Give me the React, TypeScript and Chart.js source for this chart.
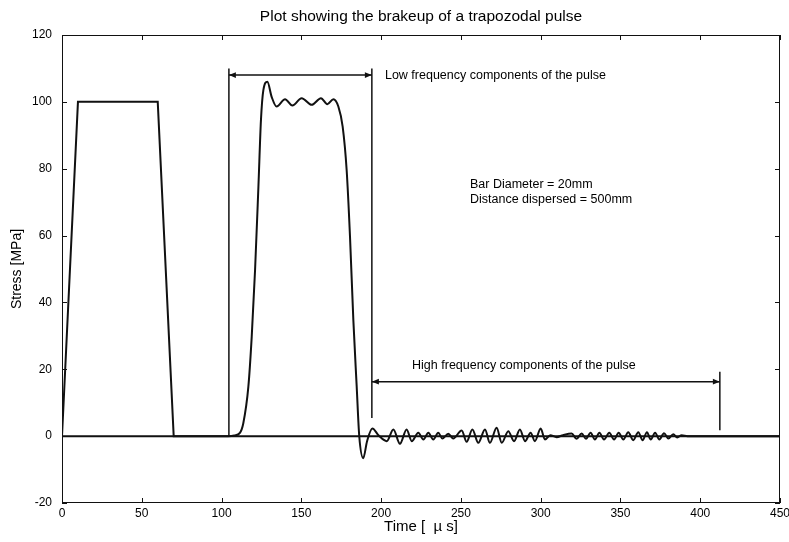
import React, { useEffect, useRef } from "react";
import { Chart, registerables } from "chart.js";

Chart.register(...registerables);

// ---------- data ----------
const titleText = "Plot showing the brakeup of a trapozodal pulse";
const xAxisTitle = "Time [  \u00b5 s]";
const yAxisTitle = "Stress [MPa]";

const xTickMin = 0;
const xTickMax = 450;
const xTickStep = 50;
const yTickMin = -20;
const yTickMax = 120;
const yTickStep = 20;

// original trapezoidal pulse
const trapTime = [0, 10, 60, 70, 450];
const trapStress = [0, 100, 100, 0, 0];

// dispersed pulse after 500 mm
const pulseTime = [
  0, 104, 108, 111.5, 113.6, 116.8, 118.9, 121, 123.1, 124.7, 126.2, 128.7, 131.4, 134.5,
  139.8, 144.4, 150.2, 156.5, 162.3, 166.3, 170.1, 173.2, 175.9, 178.4, 180.5, 182.6, 184.7,
  186.3, 188.8, 191.2, 194.5, 198.5, 203.5, 207.7, 211.8, 216, 219.2, 223.3, 226.5, 229.6,
  232.7, 235.8, 238.4, 242.1, 245.2, 250.5, 253.6, 257.2, 260.9, 265.1, 268.2, 272.4, 275.6,
  279.7, 283.3, 287, 290.2, 293.7, 296.4, 300, 302.7, 306, 310, 314, 319.4, 322.5, 325.7,
  328.4, 331.3, 334, 336.8, 339.7, 343, 346, 348.9, 351.8, 354.9, 358, 361.2, 363.9, 366.6,
  369, 371.7, 374.4, 377.3, 380, 383.1, 385.6, 388.4, 392, 450,
];
const pulseStress = [
  0, 0, 0.2, 1, 3.8, 14.8, 29.7, 49.7, 74.6, 94.6, 103.5, 106, 101.5, 98.6,
  100.8, 98.9, 101.1, 99.1, 101.1, 99.3, 100.8, 98.6, 92.6, 79.6, 59.7, 34.7, 14.8,
  0, -6.6, -1.5, 2.3, 0.2, -1.5, 2.0, -2.3, 2.0, -1.5, 1.0, -1.0, 1.0,
  -1.0, 1.0, -0.7, 0.7, -0.7, 1.7, -1.7, 2.0, -2.0, 2.0, -2.0, 2.5, -2.0,
  1.5, -1.5, 2.0, -1.5, 1.0, -1.5, 2.3, -1.0, 0.3, -0.3, 0.3, 0.8, -0.8, 0.8,
  -0.8, 1.0, -1.0, 1.0, -1.0, 1.0, -1.0, 1.0, -1.0, 1.2, -1.2, 1.2, -1.2, 1.2,
  -1.0, 1.0, -1.0, 0.9, -0.7, 0.6, -0.4, 0.3, 0, 0,
];

// annotation geometry (data units)
const lowBracketLeft = 104.6;
const lowBracketRight = 194.2;
const lowBracketTop = 110;
const lowArrowY = 108;
const lowRightBottom = 5.4;
const highArrowY = 16.3;
const highArrowRight = 412.3;
const highRightTop = 19.3;
const highRightBottom = 1.8;

const lowLabel = "Low frequency components of the pulse";
const lowLabelPos = [202.4, 108];
const highLabel = "High frequency components of the pulse";
const highLabelPos = [219.4, 21];
const infoLines = ["Bar Diameter = 20mm", "Distance dispersed = 500mm"];
const infoPos = [[255.7, 75.4], [255.7, 70.9]];

const FONT = '"Liberation Sans", Arial, Helvetica, sans-serif';
const INK = "#111";

function toXY(t: number[], s: number[]) {
  return t.map((v, i) => ({ x: v, y: s[i] }));
}

const decorPlugin = {
  id: "decor",
  afterDraw(chart: any) {
    const { ctx, chartArea: a } = chart;
    const x = chart.scales.x;
    const y = chart.scales.y;
    const px = (v: number) => x.getPixelForValue(v);
    const py = (v: number) => y.getPixelForValue(v);
    ctx.save();

    // frame
    ctx.strokeStyle = INK;
    ctx.lineWidth = 1;
    ctx.strokeRect(a.left + 0.5, a.top + 0.5, a.right - a.left - 1, a.bottom - a.top - 1);

    // inward ticks
    const tl = 5;
    ctx.beginPath();
    x.ticks.forEach((t: any) => {
      const p = Math.round(px(t.value)) + 0.5;
      ctx.moveTo(p, a.bottom);
      ctx.lineTo(p, a.bottom - tl);
      ctx.moveTo(p, a.top);
      ctx.lineTo(p, a.top + tl);
    });
    y.ticks.forEach((t: any) => {
      const p = Math.round(py(t.value)) + 0.5;
      ctx.moveTo(a.left, p);
      ctx.lineTo(a.left + tl, p);
      ctx.moveTo(a.right, p);
      ctx.lineTo(a.right - tl, p);
    });
    ctx.stroke();

    // annotation lines
    ctx.lineWidth = 1.5;
    ctx.strokeStyle = INK;
    const vline = (t: number, v1: number, v2: number) => {
      ctx.beginPath();
      ctx.moveTo(px(t), py(v1));
      ctx.lineTo(px(t), py(v2));
      ctx.stroke();
    };
    const arrow = (t1: number, t2: number, v: number) => {
      const x1 = px(t1), x2 = px(t2), yy = py(v);
      ctx.beginPath();
      ctx.moveTo(x1, yy);
      ctx.lineTo(x2, yy);
      ctx.stroke();
      const hl = 7, hw = 2.8;
      ctx.fillStyle = INK;
      ctx.beginPath();
      ctx.moveTo(x1, yy);
      ctx.lineTo(x1 + hl, yy - hw);
      ctx.lineTo(x1 + hl, yy + hw);
      ctx.closePath();
      ctx.fill();
      ctx.beginPath();
      ctx.moveTo(x2, yy);
      ctx.lineTo(x2 - hl, yy - hw);
      ctx.lineTo(x2 - hl, yy + hw);
      ctx.closePath();
      ctx.fill();
    };
    vline(lowBracketLeft, lowBracketTop, 0);
    vline(lowBracketRight, lowBracketTop, lowRightBottom);
    arrow(lowBracketLeft, lowBracketRight, lowArrowY);
    vline(highArrowRight, highRightTop, highRightBottom);
    arrow(lowBracketRight, highArrowRight, highArrowY);

    // texts
    ctx.fillStyle = "#000";
    ctx.textBaseline = "middle";
    ctx.textAlign = "left";
    ctx.font = `12.5px ${FONT}`;
    ctx.fillText(lowLabel, px(lowLabelPos[0]), py(lowLabelPos[1]));
    ctx.fillText(highLabel, px(highLabelPos[0]), py(highLabelPos[1]));
    infoLines.forEach((s, i) => ctx.fillText(s, px(infoPos[i][0]), py(infoPos[i][1])));

    // title
    ctx.textAlign = "center";
    ctx.font = `15.5px ${FONT}`;
    ctx.fillText(titleText, (a.left + a.right) / 2, 17);

    // axis titles
    ctx.font = `15px ${FONT}`;
    ctx.fillText(xAxisTitle, (a.left + a.right) / 2, 527);
    ctx.font = `14px ${FONT}`;
    ctx.translate(17, (a.top + a.bottom) / 2);
    ctx.rotate(-Math.PI / 2);
    ctx.fillText(yAxisTitle, 0, 0);

    ctx.restore();
  },
};

export default function App() {
  const ref = useRef<HTMLCanvasElement | null>(null);

  useEffect(() => {
    if (!ref.current) return;
    const chart = new Chart(ref.current, {
      type: "line",
      data: {
        datasets: [
          {
            label: "Trapezoidal pulse",
            data: toXY(trapTime, trapStress),
            borderColor: INK,
            borderWidth: 2,
            pointRadius: 0,
            tension: 0,
            fill: false,
          },
          {
            label: "Dispersed pulse",
            data: toXY(pulseTime, pulseStress),
            borderColor: INK,
            borderWidth: 2,
            pointRadius: 0,
            cubicInterpolationMode: "monotone",
            fill: false,
          },
        ],
      },
      options: {
        animation: false,
        responsive: false,
        layout: { padding: { left: 0, right: 9, top: 35, bottom: 0 } },
        plugins: {
          legend: { display: false },
          title: { display: false },
          tooltip: { enabled: false },
        },
        scales: {
          x: {
            type: "linear",
            min: xTickMin,
            max: xTickMax,
            grid: { display: false, drawTicks: false },
            border: { display: false },
            ticks: {
              stepSize: xTickStep,
              padding: 3,
              color: "#000",
              font: { family: FONT, size: 12 },
              maxRotation: 0,
            },
            afterFit: (s: any) => {
              s.height = 39;
              s.paddingLeft = 0;
              s.paddingRight = 0;
            },
          },
          y: {
            type: "linear",
            min: yTickMin,
            max: yTickMax,
            grid: { display: false, drawTicks: false },
            border: { display: false },
            ticks: {
              stepSize: yTickStep,
              padding: 10,
              color: "#000",
              font: { family: FONT, size: 12 },
            },
            afterFit: (s: any) => {
              s.width = 62;
              s.paddingTop = 0;
              s.paddingBottom = 0;
            },
          },
        },
      },
      plugins: [decorPlugin],
    });
    return () => chart.destroy();
  }, []);

  return (
    <div style={{ position: "fixed", left: 0, top: 0, width: 789, height: 542, background: "#fff" }}>
      <canvas ref={ref} width={789} height={542} style={{ display: "block" }} />
    </div>
  );
}
